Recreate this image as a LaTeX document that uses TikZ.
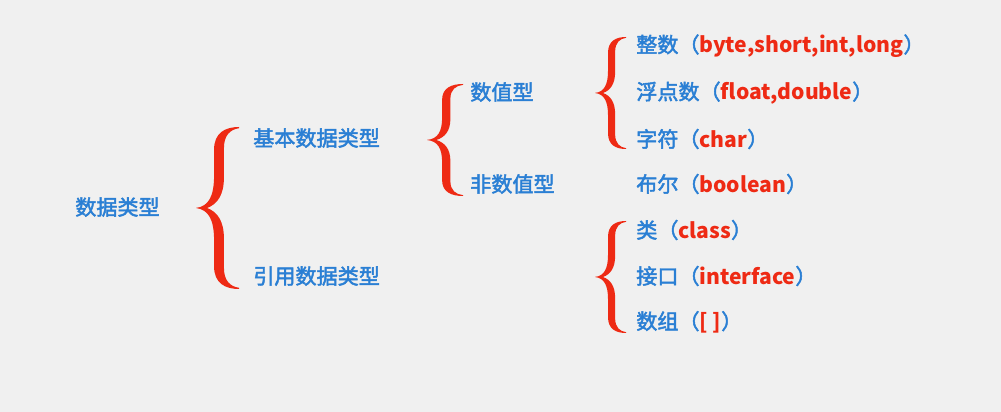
\documentclass[tikz,border=0pt]{standalone}
\usepackage{fontspec}
\setmainfont{Noto Sans CJK SC}[UprightFeatures={FakeBold=2.2}]
\definecolor{dtblue}{HTML}{2A7FD4}
\definecolor{dtred}{HTML}{EE2A14}
\definecolor{dtbg}{HTML}{F0F0F0}
\newcommand{\kw}[1]{\textcolor{dtred}{\bfseries #1}}
\newcommand{\halfbrace}{%
  \fill (0,0) .. controls (0.3,0.02) and (0.42,0.15) .. (0.42,0.4)
    -- (0.42,0.72) .. controls (0.42,0.93) and (0.68,1) .. (1,1)
    -- (1,0.985) .. controls (0.8,0.97) and (0.65,0.9) .. (0.65,0.74)
    -- (0.65,0.38) .. controls (0.65,0.16) and (0.5,0.05) .. (0.26,0) -- cycle;}

\tikzset{
  curlybrace/.pic={
    \halfbrace
    \begin{scope}[yscale=-1] \halfbrace \end{scope}
  }
}

\begin{document}
\begin{tikzpicture}[x=0.025cm, y=-0.025cm,
    every node/.style={font=\fontsize{15}{18}\selectfont, text=dtblue, anchor=west, inner sep=0pt}]
    \fill[dtbg] (0,0) rectangle (1001,412);
    \useasboundingbox (0,0) rectangle (1001,412);

    % labels
    \node (root) at (75,207) {数据类型};
    \node (basic) at (253,138) {基本数据类型};
    \node (ref) at (253,276) {引用数据类型};
    \node (num) at (470,92) {数值型};
    \node (nonnum) at (470,184) {非数值型};
    \node (int) at (636,46) {整数（\kw{byte,short,int,long}）};
    \node (float) at (636,93) {浮点数（\kw{float,double}）};
    \node (char) at (636,139) {字符（\kw{char}）};
    \node (bool) at (636,184) {布尔（\kw{boolean}）};
    \node (class) at (636,230) {类（\kw{class}）};
    \node (iface) at (636,276) {接口（\kw{interface}）};
    \node (array) at (636,322) {数组（\kw{[ ]}）};

    % brace tips
    \coordinate (roottip) at (196,208);
    \coordinate (basictip) at (427,140);
    \coordinate (numtip) at (595,93);
    \coordinate (reftip) at (595,277);

    \begin{scope}[fill=dtred]
      \pic[xscale=43, yscale=-81] at (roottip) {curlybrace};
      \pic[xscale=36, yscale=-56] at (basictip) {curlybrace};
      \pic[xscale=31, yscale=-56] at (numtip) {curlybrace};
      \pic[xscale=31, yscale=-56] at (reftip) {curlybrace};
    \end{scope}
\end{tikzpicture}
\end{document}
